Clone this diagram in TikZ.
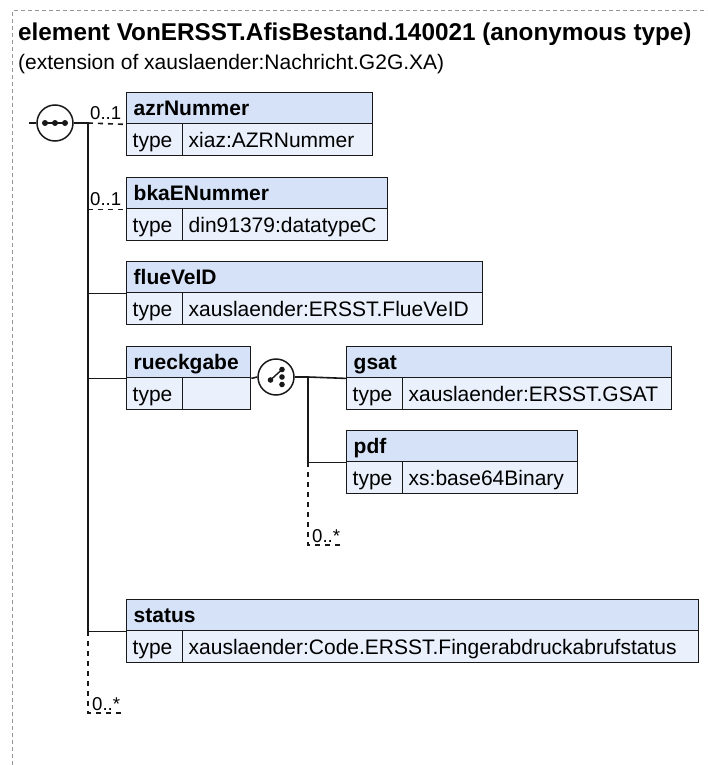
\documentclass[tikz,border=0pt]{standalone}
\usepackage{fontspec}
\setmainfont{Liberation Sans}
\definecolor{hdrfill}{RGB}{214,226,247}
\definecolor{rowfill}{RGB}{234,241,252}
\definecolor{framegray}{RGB}{150,150,150}
\definecolor{ink}{RGB}{25,25,25}
\tikzset{
  boxbase/.style={draw=ink, line width=1.4pt, anchor=north west, inner ysep=0pt,
    text height=15pt, text depth=0pt, align=left},
  hdrbox/.style={boxbase, fill=hdrfill, inner xsep=7pt, minimum height=31pt,
    font=\fontsize{21}{24}\selectfont\bfseries},
  typecell/.style={boxbase, fill=rowfill, inner xsep=6pt, minimum height=32pt,
    text width=44pt, font=\fontsize{21}{24}\selectfont},
  valcell/.style={boxbase, fill=rowfill, inner xsep=6pt, minimum height=32pt,
    font=\fontsize{21}{24}\selectfont},
  conn/.style={draw=ink, line width=1.6pt},
  optconn/.style={draw=ink, line width=1.6pt, dash pattern=on 5pt off 5pt},
  mult/.style={anchor=base west, inner sep=0pt, font=\fontsize{18.6}{22}\selectfont},
  compositor/.style={circle, draw=ink, line width=1.5pt, fill=white, minimum size=36pt, inner sep=0pt},
  dotfill/.style={fill=ink},
  framelines/.style={draw=framegray, line width=1pt, dash pattern=on 4pt off 3pt}
}
\begin{document}
\begin{tikzpicture}[x=1pt, y=-1pt]
\useasboundingbox (0,0) rectangle (707,765);
% frame
\draw[framelines] (12,765) -- (12,11) -- (707,11);
% title
\node[anchor=base west, inner sep=0pt, font=\fontsize{24.3}{28}\selectfont\bfseries] (title) at (18,41) {element VonERSST.AfisBestand.140021 (anonymous type)};
\node[anchor=base west, inner sep=0pt, font=\fontsize{21}{25}\selectfont] (subtitle) at (18,70) {(extension of xauslaender:Nachricht.G2G.XA)};

% sequence compositor
\node[compositor] (seq) at (55,123) {};
\draw[ink, line width=1.4pt] (45,123) -- (65,123);
\fill[dotfill] (45,123) circle (3) (55,123) circle (3) (65,123) circle (3);
\coordinate (stub) at (29,123);
\coordinate (j1) at (88,123);

% azrNummer
\node[hdrbox, text width=232pt] (azr) at (126,92) {azrNummer};
\node[typecell] (azrT) at (126,123) {type};
\node[valcell, text width=178pt] (azrV) at (182,123) {xiaz:AZRNummer};

% bkaENummer
\node[hdrbox, text width=247pt] (bka) at (126,177) {bkaENummer};
\node[typecell] (bkaT) at (126,208) {type};
\node[valcell, text width=193pt] (bkaV) at (182,208) {din91379:datatypeC};

% flueVeID
\node[hdrbox, text width=342pt] (flue) at (126,261) {flueVeID};
\node[typecell] (flueT) at (126,292) {type};
\node[valcell, text width=288pt] (flueV) at (182,292) {xauslaender:ERSST.FlueVeID};

% rueckgabe
\node[hdrbox, text width=110pt] (rue) at (126,346) {rueckgabe};
\node[typecell] (rueT) at (126,377) {type};
\node[valcell, text width=56pt] (rueV) at (182,377) {};

% choice compositor
\node[compositor] (cho) at (276,377) {};
\draw[ink, line width=1.4pt] (270.5,380) -- (282,369.5);
\fill[dotfill] (270.5,380) circle (2.8) (282,369.5) circle (2.8) (282,377) circle (2.8) (282,384.5) circle (2.8);
\coordinate (c1) at (308,377);

% gsat
\node[hdrbox, text width=311pt] (gsat) at (346,346) {gsat};
\node[typecell] (gsatT) at (346,377) {type};
\node[valcell, text width=257pt] (gsatV) at (402,377) {xauslaender:ERSST.GSAT};

% pdf
\node[hdrbox, text width=217pt] (pdf) at (346,430) {pdf};
\node[typecell] (pdfT) at (346,461) {type};
\node[valcell, text width=163pt] (pdfV) at (402,461) {xs:base64Binary};

% status
\node[hdrbox, text width=558pt] (status) at (126,599) {status};
\node[typecell] (statusT) at (126,630) {type};
\node[valcell, text width=504pt] (statusV) at (182,630) {xauslaender:Code.ERSST.Fingerabdruckabrufstatus};

% main connectors
\coordinate (jS) at (j1 |- status.south west);
\coordinate (jE) at (88,713);
\coordinate (jE2) at (121,713);
\draw[conn] (stub) -- (seq.west);
\draw[conn] (seq.east) -- (j1);
\draw[conn] (j1) -- (jS);
\draw[optconn] (jS) -- (jE) -- (jE2);
\draw[optconn] (j1) -- (azr.south west);
\draw[optconn] (j1 |- bka.south west) -- (bka.south west);
\draw[conn] (j1 |- flue.south west) -- (flue.south west);
\draw[conn] (j1 |- rue.south west) -- (rue.south west);
\draw[conn] (jS) -- (status.south west);
\node[mult] (m1) at (90,120) {0..1};
\node[mult] (m2) at (90,205) {0..1};
\node[mult] (m3) at (92,710) {0..*};

% choice connectors
\coordinate (c2) at (c1 |- pdf.south west);
\coordinate (cE) at (308,545);
\coordinate (cE2) at (343,545);
\draw[conn] (rue.south east) -- (cho.west);
\draw[conn] (cho.east) -- (c1);
\draw[conn] (c1) -- (gsat.south west);
\draw[conn] (c1) -- (c2);
\draw[conn] (c2) -- (pdf.south west);
\draw[optconn] (c2) -- (cE) -- (cE2);
\node[mult] (m4) at (312,542) {0..*};
\end{tikzpicture}
\end{document}
